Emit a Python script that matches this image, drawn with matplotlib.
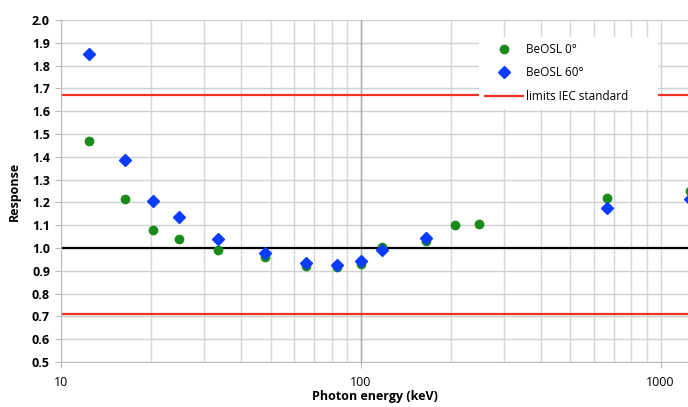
import numpy as np
import matplotlib.pyplot as plt
from matplotlib.ticker import FixedLocator, NullFormatter

# photon energies (keV) and responses
energy_0 = [12.4, 16.3, 20.3, 24.7, 33.4, 48, 65.5, 83, 100, 118, 165, 207, 248, 662, 1250]
resp_0 = [1.47, 1.215, 1.08, 1.04, 0.99, 0.96, 0.92, 0.915, 0.93, 1.005, 1.03, 1.10, 1.105, 1.22, 1.25]

energy_60 = [12.4, 16.3, 20.3, 24.7, 33.4, 48, 65.5, 83, 100, 118, 165, 662, 1250]
resp_60 = [1.85, 1.385, 1.205, 1.135, 1.04, 0.98, 0.935, 0.925, 0.945, 0.99, 1.045, 1.175, 1.215]

iec_upper = 1.67
iec_lower = 0.71
reference = 1.0

plt.rcParams['font.family'] = ['Open Sans', 'DejaVu Sans']

fig = plt.figure(figsize=(6.88, 4.07), dpi=100)
ax = fig.add_axes([0.0887, 0.1106, 0.9113, 0.8403])

ax.set_xscale('log')
ax.set_xlim(10, 1235)
ax.set_ylim(0.5, 2.0)

ax.set_yticks(np.arange(0.5, 2.01, 0.1))
ax.set_yticklabels(['%.1f' % v for v in np.arange(0.5, 2.01, 0.1)], fontsize=9, fontweight='bold')
ax.xaxis.set_major_locator(FixedLocator([10, 100, 1000]))
ax.set_xticklabels(['10', '100', '1000'], fontsize=9)
ax.xaxis.set_minor_formatter(NullFormatter())

ax.grid(True, which='major', axis='y', color='#d0d0d0', lw=1.0)
ax.grid(True, which='both', axis='x', color='#d6d6d6', lw=1.0)
ax.axvline(100, color='#aaaaaa', lw=1.0, zorder=0.6)
ax.set_axisbelow(True)

for s in ['top', 'right']:
    ax.spines[s].set_visible(False)
ax.spines['left'].set_color('#bbbbbb')
ax.spines['bottom'].set_color('#bbbbbb')
ax.tick_params(axis='both', which='major', length=4, color='#bbbbbb', pad=4)
ax.tick_params(axis='x', which='minor', length=0)
ax.tick_params(axis='x', which='major', pad=6)

ax.axhline(reference, color='black', lw=1.6, zorder=2)
ax.axhline(iec_upper, color='#ee3322', lw=1.6, zorder=2, label='limits IEC standard        ')
ax.axhline(iec_lower, color='#ee3322', lw=1.6, zorder=2)

ax.plot(energy_0, resp_0, 'o', color='#1a8a1a', ms=6, mec='#1a8a1a', label='BeOSL 0°', zorder=3)
ax.plot(energy_60, resp_60, 'D', color='#0a3cff', ms=5.8, mec='#0a3cff', label='BeOSL 60°', zorder=3)

h, l = ax.get_legend_handles_labels()
order = [1, 2, 0]
leg = ax.legend([h[i] for i in order], [l[i] for i in order],
                loc='upper left', bbox_to_anchor=(0.658, 0.968), fontsize=8.5,
                frameon=True, framealpha=1, edgecolor='none', fancybox=False,
                handlelength=3.2, labelspacing=0.9, borderpad=0.5, handletextpad=0.2)
leg.get_frame().set_facecolor('white')

ax.set_ylabel('Response', fontsize=9, fontweight='bold', labelpad=8)
ax.set_xlabel('Photon energy (keV)', fontsize=9, fontweight='bold', labelpad=1)

fig.savefig('out.png', dpi=100)
